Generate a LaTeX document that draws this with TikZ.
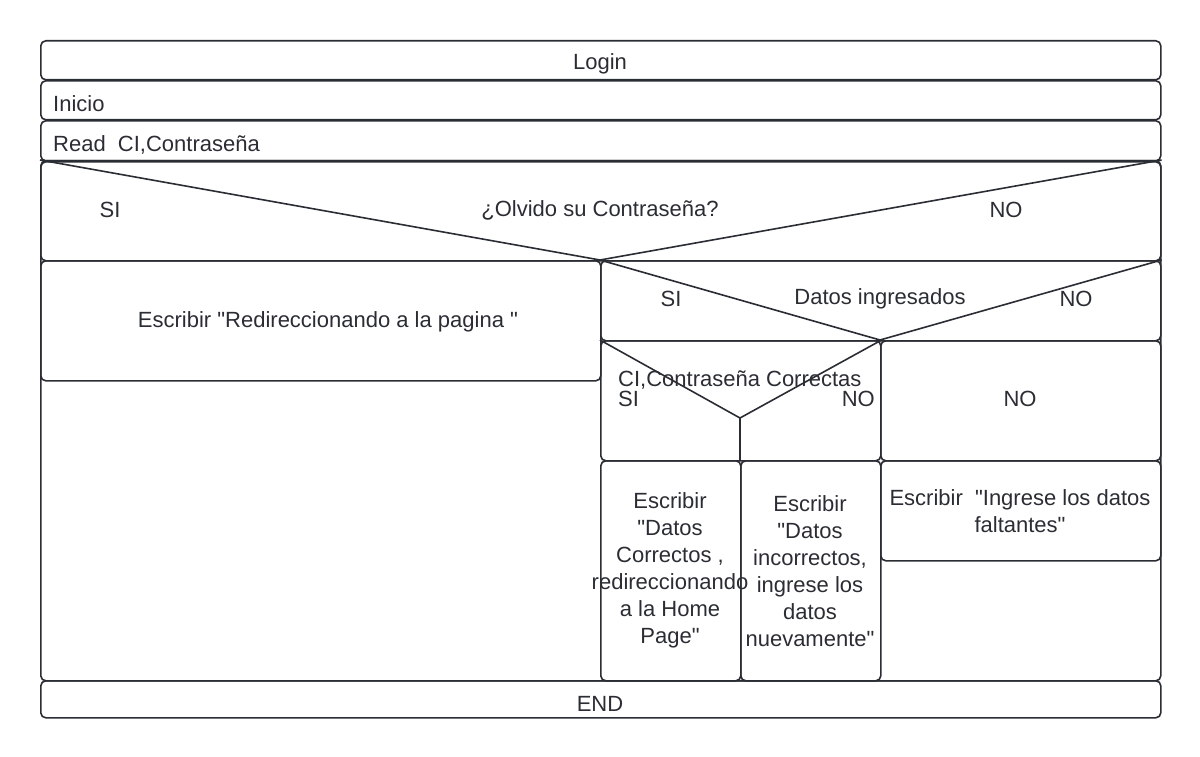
\documentclass[tikz,border=0pt]{standalone}
\usepackage{fontspec}
\setmainfont{Liberation Sans}[Ligatures=TeXOff]
\definecolor{lc}{HTML}{2A2D33}
\definecolor{tc}{HTML}{2A2D33}
\begin{document}
\begin{tikzpicture}[x=1pt,y=-1pt,
  box/.style={draw=lc, line width=1.6pt, rounded corners=5pt, anchor=north west, inner sep=0pt},
  seg/.style={draw=lc, line width=1.6pt, line join=round},
  lbl/.style={font=\fontsize{22}{27}\selectfont, text=tc, inner sep=0pt, align=center, yshift=-2pt}
  ]
\useasboundingbox (0,0) rectangle (1200,757);
% container
\node[box, minimum width=1120pt, minimum height=519pt] (frame) at (40,161) {};
% rows
\node[box, minimum width=1120pt, minimum height=39pt] (login) at (40,40) {};
\node[box, minimum width=1120pt, minimum height=39pt] (inicio) at (40,80) {};
\node[box, minimum width=1120pt, minimum height=40pt] (read) at (40,120) {};
\node[box, minimum width=1120pt, minimum height=100pt] (dec1) at (40,160) {};
\node[box, minimum width=560pt, minimum height=120pt] (redir) at (40,260) {};
\node[box, minimum width=560pt, minimum height=80pt] (dec2) at (600,260) {};
\node[box, minimum width=280pt, minimum height=120pt] (dec3) at (600,340) {};
\node[box, minimum width=280pt, minimum height=120pt] (nobox) at (880,340) {};
\node[box, minimum width=140pt, minimum height=220pt] (okbox) at (600,460) {};
\node[box, minimum width=140pt, minimum height=220pt] (badbox) at (740,460) {};
\node[box, minimum width=280pt, minimum height=100pt] (faltbox) at (880,460) {};
\node[box, minimum width=1120pt, minimum height=37pt] (endbox) at (40,680) {};
% decision diagonals
\coordinate (a1) at (600,260);
\draw[seg] (dec1.north west) -- (a1) -- (dec1.north east);
\coordinate (a2) at (880,340);
\draw[seg] (dec2.north west) -- (a2) -- (dec2.north east);
\coordinate (a3) at (740,418);
\coordinate (a3b) at (740,460);
\draw[seg] (dec3.north west) -- (a3) -- (dec3.north east);
\draw[seg] (a3) -- (a3b);
% texts
\node[lbl] (tlogin) at (600,62) {Login};
\node[lbl, anchor=west] (tinicio) at (53,102) {Inicio};
\node[lbl, anchor=west] (tread) at (53,143) {Read\ \ CI,Contraseña};
\node[lbl] (tsi1) at (110,208) {SI};
\node[lbl] (tq1) at (600,208) {¿Olvido su Contraseña?};
\node[lbl] (tno1) at (1006,208) {NO};
\node[lbl] (tredir) at (328,320) {Escribir "Redireccionando a la pagina "};
\node[lbl] (tsi2) at (671,297) {SI};
\node[lbl] (tq2) at (880,297) {Datos ingresados};
\node[lbl] (tno2) at (1076,297) {NO};
\node[lbl, anchor=west] (tq3) at (618,378) {CI,Contraseña Correctas};
\node[lbl, anchor=west] (tsi3) at (618,397) {SI};
\node[lbl, anchor=east] (tno3) at (875,397) {NO};
\node[lbl] (tno4) at (1020,397) {NO};
\node[lbl] (tok) at (670,568) {Escribir\\"Datos\\Correctos ,\\redireccionando\\a la Home\\Page"};
\node[lbl] (tbad) at (810,569) {Escribir\\"Datos\\incorrectos,\\ingrese los\\datos\\nuevamente"};
\node[lbl] (tfalt) at (1020,509) {Escribir\ \ "Ingrese los datos\\faltantes"};
\node[lbl] (tend) at (600,702) {END};
\end{tikzpicture}
\end{document}
